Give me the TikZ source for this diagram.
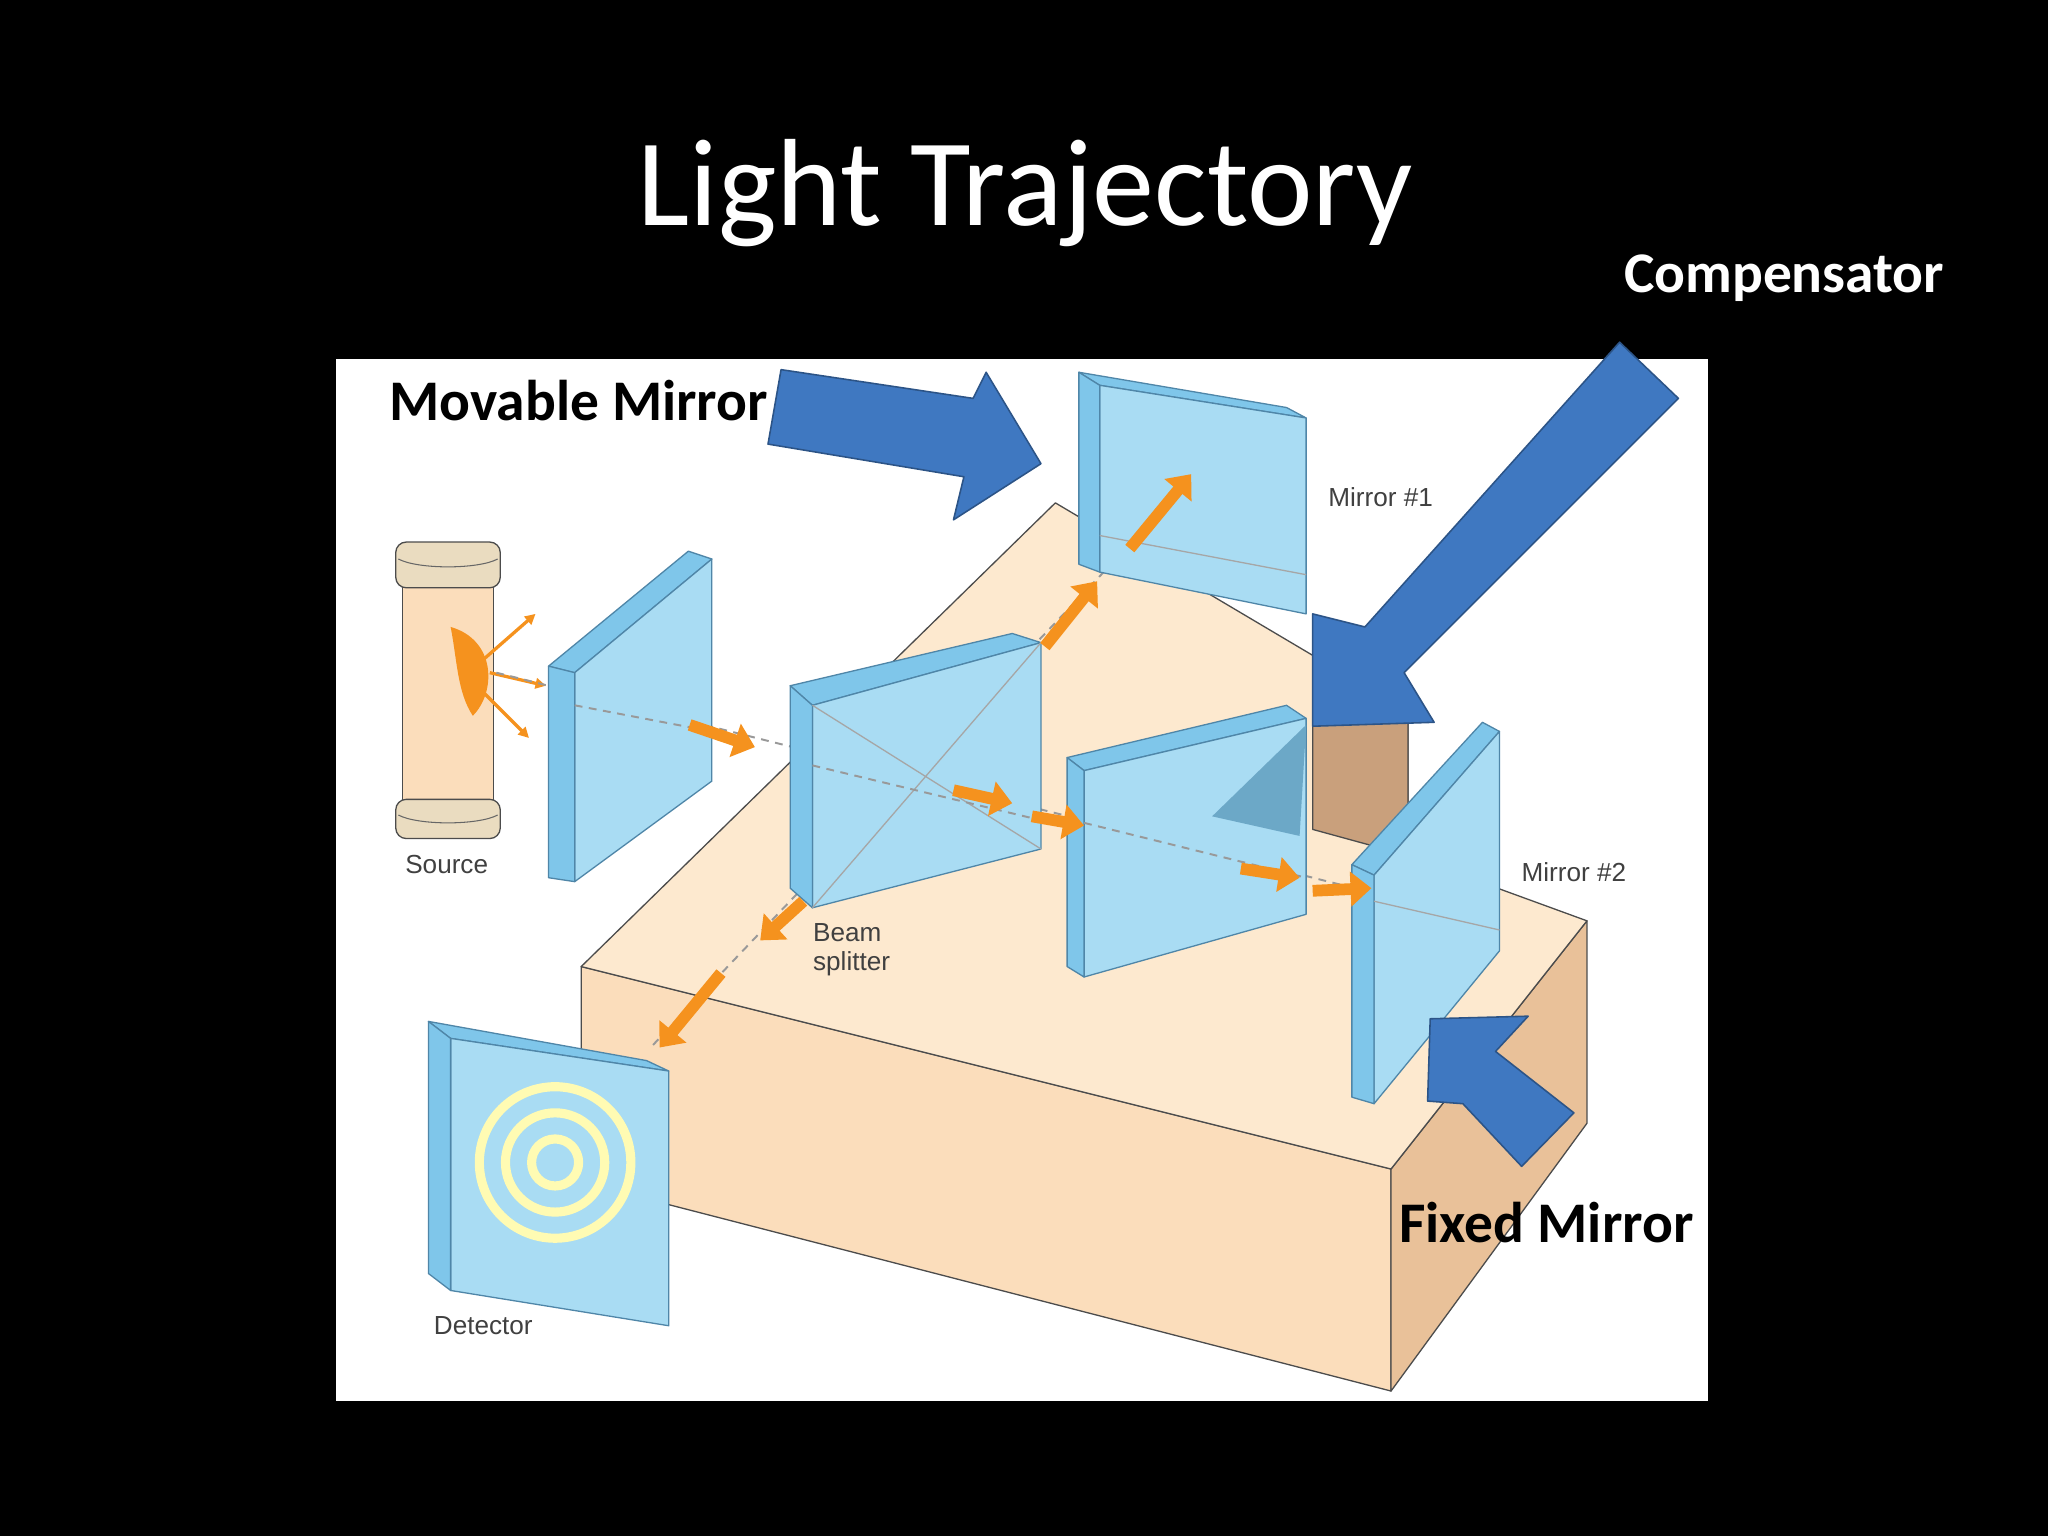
\documentclass[tikz,border=0pt]{standalone}
\usepackage{fontspec}
\setmainfont{Carlito}
\newfontfamily\arialf{Liberation Sans}
\usetikzlibrary{arrows.meta}
\definecolor{glass}{HTML}{A9DCF3}
\definecolor{glassedge}{HTML}{7FC6EA}
\definecolor{glassline}{HTML}{4F86A8}
\definecolor{topc}{HTML}{FDE9CF}
\definecolor{frontc}{HTML}{FBDDBB}
\definecolor{sidec}{HTML}{E9C199}
\definecolor{stepc}{HTML}{C9A07C}
\definecolor{capc}{HTML}{EADCC0}
\definecolor{orng}{HTML}{F5921E}
\definecolor{bluar}{HTML}{3F78C1}
\tikzset{
 face/.style={fill=glass,draw=glassline,line width=1pt,line join=round},
 edgef/.style={fill=glassedge,draw=glassline,line width=1pt,line join=round},
 box/.style={draw=black!70,line width=1pt,line join=round},
 beam/.style={draw=gray!80,dashed,line width=1.5pt,dash pattern=on 6pt off 5pt},
 ph/.style={draw=orng,line width=9pt,-{Triangle[length=16pt,width=26pt]}},
 bigar/.style={fill=bluar,draw=bluar!70!black,line width=1.2pt,line join=round},
 small/.style={font=\arialf\fontsize{20}{22}\selectfont,text=black!75,align=left},
 lab/.style={font=\bfseries\fontsize{44}{48}\selectfont}
}
\begin{document}
\begin{tikzpicture}[x=1pt,y=-1pt]
\fill[black] (0,0) rectangle (1568,1176);
\useasboundingbox (0,0) rectangle (1568,1176);
\node[text=white,font=\fontsize{95}{100}\selectfont] (title) at (785,148) {Light Trajectory};
\node[text=white,lab] (comp) at (1366,213) {Compensator};
\fill[white] (257,275) rectangle (1308,1073);
% table
\path[box,fill=frontc] (445,740) -- (1065,895) -- (1065,1065) -- (445,905) -- cycle;
\path[box,fill=sidec] (1065,895) -- (1215,705) -- (1215,860) -- (1065,1065) -- cycle;
\path[box,fill=topc] (445,740) -- (808,385) -- (1078,545) -- (1078,655) -- (1215,705) -- (1065,895) -- cycle;
\path[box,fill=stepc] (1005,520) -- (1078,545) -- (1078,655) -- (1005,635) -- cycle;
% source
\path[box,fill=frontc] (308,440) rectangle (378,620);
\path[box,fill=capc,rounded corners=8pt] (303,415) rectangle (383,450);
\draw[black!60,line width=0.8pt] (305,428) .. controls (320,436) and (366,436) .. (381,428);
\path[box,fill=capc,rounded corners=8pt] (303,612) rectangle (383,642);
\draw[black!60,line width=0.8pt] (305,624) .. controls (320,632) and (366,632) .. (381,624);
\path[fill=orng] (345,480) .. controls (380,490) and (380,530) .. (362,548) .. controls (350,530) and (350,505) .. (345,480);
\draw[orng,line width=2.5pt,-{Triangle[length=8pt,width=8pt]}] (370,505) -- (410,470);
\draw[orng,line width=2.5pt,-{Triangle[length=8pt,width=8pt]}] (375,515) -- (418,525);
\draw[orng,line width=2.5pt,-{Triangle[length=8pt,width=8pt]}] (370,530) -- (405,565);
\node[small] (src) at (342,662) {Source};
% beams
\draw[beam] (380,515) -- (1045,682);
\draw[beam] (500,800) -- (905,375);
% left plate
\path[edgef] (420,510) -- (527,422) -- (545,428) -- (440,515) -- cycle;
\path[face] (440,515) -- (545,428) -- (545,598) -- (440,675) -- cycle;
\path[edgef] (420,510) -- (440,515) -- (440,675) -- (420,672) -- cycle;
\draw[beam] (440,540) -- (545,560);
% beam splitter
\path[edgef] (605,525) -- (775,485) -- (797,492) -- (622,540) -- cycle;
\path[face] (622,540) -- (797,492) -- (797,650) -- (622,695) -- cycle;
\path[edgef] (605,525) -- (622,540) -- (622,695) -- (605,680) -- cycle;
\draw[gray!70,line width=1pt] (622,540) -- (797,650) (622,695) -- (797,492);
\draw[beam] (622,586) -- (797,628);
\node[small] (bs) at (652,727) {Beam\\splitter};
% mirror 1
\path[edgef] (826,285) -- (985,312) -- (1000,320) -- (842,295) -- cycle;
\path[face] (842,295) -- (1000,320) -- (1000,470) -- (842,438) -- cycle;
\path[edgef] (826,285) -- (842,295) -- (842,438) -- (826,432) -- cycle;
\draw[gray!70,line width=1pt] (842,410) -- (1000,440);
\node[small] (m1) at (1057,381) {Mirror \#1};
% compensator
\path[edgef] (817,580) -- (985,540) -- (1000,550) -- (830,590) -- cycle;
\path[face] (830,590) -- (1000,550) -- (1000,700) -- (830,748) -- cycle;
\path[edgef] (817,580) -- (830,590) -- (830,748) -- (817,740) -- cycle;
\fill[glassedge!85!black] (928,625) -- (1000,555) -- (995,640) -- cycle;
\draw[beam] (830,630) -- (1000,672);
% mirror 2
\path[edgef] (1035,662) -- (1135,553) -- (1148,560) -- (1052,670) -- cycle;
\path[face] (1052,670) -- (1148,560) -- (1148,728) -- (1052,845) -- cycle;
\path[edgef] (1035,662) -- (1052,670) -- (1052,845) -- (1035,840) -- cycle;
\draw[gray!70,line width=1pt] (1052,690) -- (1148,712);
\node[small] (m2) at (1205,668) {Mirror \#2};
% detector
\path[edgef] (328,782) -- (495,812) -- (512,820) -- (345,795) -- cycle;
\path[face] (345,795) -- (512,820) -- (512,1015) -- (345,988) -- cycle;
\path[edgef] (328,782) -- (345,795) -- (345,988) -- (328,975) -- cycle;
\foreach \r in {18,38,58}{\draw[yellow!30!white,line width=7pt] (425,890) circle (\r);}
\node[small] (det) at (370,1015) {Detector};
% photons
\draw[ph] (528,555) -- (578,572);
\draw[ph] (730,605) -- (775,615);
\draw[ph] (790,625) -- (830,632);
\draw[ph] (950,665) -- (995,672);
\draw[ph] (1005,682) -- (1050,680);
\draw[ph] (800,495) -- (840,445);
\draw[ph] (865,420) -- (912,363);
\draw[ph] (615,690) -- (582,720);
\draw[ph] (552,745) -- (505,802);
% blue arrows
\path[bigar] (598,283) -- (745,305) -- (755,285) -- (797,355) -- (730,398) -- (738,365) -- (588,340) -- cycle;
\path[bigar] (1240,262) -- (1285,305) -- (1075,515) -- (1098,553) -- (1005,556) -- (1005,470) -- (1045,480) -- cycle;
\path[bigar] (1205,852) -- (1165,893) -- (1120,845) -- (1093,843) -- (1095,780) -- (1170,778) -- (1145,805) -- cycle;
\node[lab] (mov) at (443,307) {Movable Mirror};
\node[lab] (fix) at (1184,936) {Fixed Mirror};
\end{tikzpicture}
\end{document}
